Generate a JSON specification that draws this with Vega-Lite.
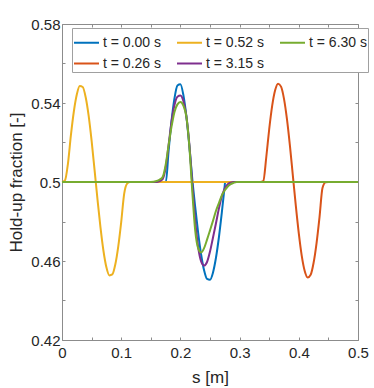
{
  "$schema": "https://vega.github.io/schema/vega-lite/v6.json",
  "width": 296,
  "height": 316,
  "autosize": {"type": "none"},
  "padding": {"left": 62, "top": 24, "right": 16, "bottom": 48},
  "background": "white",
  "config": {
    "font": "Liberation Sans",
    "view": {"stroke": "#8c8c8c", "strokeWidth": 1},
    "axis": {
      "grid": false,
      "domain": false,
      "tickColor": "#8c8c8c",
      "tickSize": -3,
      "labelFont": "Liberation Sans",
      "labelFontSize": 15,
      "labelColor": "#262626",
      "labelFlush": false,
      "labelOverlap": false,
      "titleFont": "Liberation Sans",
      "titleFontSize": 17,
      "titleColor": "#262626",
      "titleFontWeight": "normal"
    },
    "legend": {
      "orient": "none",
      "legendX": 10,
      "legendY": 4,
      "columns": 3,
      "symbolType": "stroke",
      "symbolSize": 625,
      "symbolStrokeWidth": 2,
      "labelFont": "Liberation Sans",
      "labelFontSize": 14,
      "labelColor": "#262626",
      "labelOffset": 3,
      "columnPadding": 12,
      "rowPadding": -4,
      "padding": 1,
      "strokeColor": "#a0a0a0",
      "fillColor": "white",
      "cornerRadius": 0
    }
  },
  "data": {
    "values": [
      {"t": "t = 0.00 s", "s": 0, "h": 0.5},
      {"t": "t = 0.00 s", "s": 0.17, "h": 0.5},
      {"t": "t = 0.00 s", "s": 0.1755, "h": 0.5},
      {"t": "t = 0.00 s", "s": 0.18, "h": 0.5155},
      {"t": "t = 0.00 s", "s": 0.185, "h": 0.5308},
      {"t": "t = 0.00 s", "s": 0.19, "h": 0.5424},
      {"t": "t = 0.00 s", "s": 0.195, "h": 0.5489},
      {"t": "t = 0.00 s", "s": 0.2, "h": 0.5495},
      {"t": "t = 0.00 s", "s": 0.205, "h": 0.5441},
      {"t": "t = 0.00 s", "s": 0.21, "h": 0.5335},
      {"t": "t = 0.00 s", "s": 0.215, "h": 0.5187},
      {"t": "t = 0.00 s", "s": 0.22, "h": 0.5017},
      {"t": "t = 0.00 s", "s": 0.225, "h": 0.4874},
      {"t": "t = 0.00 s", "s": 0.23, "h": 0.4743},
      {"t": "t = 0.00 s", "s": 0.235, "h": 0.4633},
      {"t": "t = 0.00 s", "s": 0.24, "h": 0.4553},
      {"t": "t = 0.00 s", "s": 0.245, "h": 0.4509},
      {"t": "t = 0.00 s", "s": 0.25, "h": 0.4505},
      {"t": "t = 0.00 s", "s": 0.255, "h": 0.4541},
      {"t": "t = 0.00 s", "s": 0.26, "h": 0.4615},
      {"t": "t = 0.00 s", "s": 0.265, "h": 0.4719},
      {"t": "t = 0.00 s", "s": 0.27, "h": 0.4846},
      {"t": "t = 0.00 s", "s": 0.275, "h": 0.4986},
      {"t": "t = 0.00 s", "s": 0.2755, "h": 0.5},
      {"t": "t = 0.00 s", "s": 0.5, "h": 0.5},

      {"t": "t = 0.26 s", "s": 0, "h": 0.5},
      {"t": "t = 0.26 s", "s": 0.335, "h": 0.5},
      {"t": "t = 0.26 s", "s": 0.34, "h": 0.5005},
      {"t": "t = 0.26 s", "s": 0.345, "h": 0.5124},
      {"t": "t = 0.26 s", "s": 0.35, "h": 0.5267},
      {"t": "t = 0.26 s", "s": 0.355, "h": 0.5385},
      {"t": "t = 0.26 s", "s": 0.36, "h": 0.5464},
      {"t": "t = 0.26 s", "s": 0.365, "h": 0.5498},
      {"t": "t = 0.26 s", "s": 0.37, "h": 0.5483},
      {"t": "t = 0.26 s", "s": 0.375, "h": 0.5421},
      {"t": "t = 0.26 s", "s": 0.38, "h": 0.5318},
      {"t": "t = 0.26 s", "s": 0.385, "h": 0.5184},
      {"t": "t = 0.26 s", "s": 0.39, "h": 0.5031},
      {"t": "t = 0.26 s", "s": 0.395, "h": 0.4879},
      {"t": "t = 0.26 s", "s": 0.4, "h": 0.474},
      {"t": "t = 0.26 s", "s": 0.405, "h": 0.4626},
      {"t": "t = 0.26 s", "s": 0.41, "h": 0.4549},
      {"t": "t = 0.26 s", "s": 0.415, "h": 0.4516},
      {"t": "t = 0.26 s", "s": 0.42, "h": 0.453},
      {"t": "t = 0.26 s", "s": 0.425, "h": 0.4591},
      {"t": "t = 0.26 s", "s": 0.43, "h": 0.4691},
      {"t": "t = 0.26 s", "s": 0.435, "h": 0.4822},
      {"t": "t = 0.26 s", "s": 0.44, "h": 0.4969},
      {"t": "t = 0.26 s", "s": 0.445, "h": 0.4998},
      {"t": "t = 0.26 s", "s": 0.45, "h": 0.5},
      {"t": "t = 0.26 s", "s": 0.5, "h": 0.5},

      {"t": "t = 0.52 s", "s": 0, "h": 0.5},
      {"t": "t = 0.52 s", "s": 0.005, "h": 0.5008},
      {"t": "t = 0.52 s", "s": 0.01, "h": 0.5092},
      {"t": "t = 0.52 s", "s": 0.015, "h": 0.5236},
      {"t": "t = 0.52 s", "s": 0.02, "h": 0.5357},
      {"t": "t = 0.52 s", "s": 0.025, "h": 0.5443},
      {"t": "t = 0.52 s", "s": 0.03, "h": 0.5486},
      {"t": "t = 0.52 s", "s": 0.035, "h": 0.5481},
      {"t": "t = 0.52 s", "s": 0.04, "h": 0.5429},
      {"t": "t = 0.52 s", "s": 0.045, "h": 0.5336},
      {"t": "t = 0.52 s", "s": 0.05, "h": 0.5209},
      {"t": "t = 0.52 s", "s": 0.055, "h": 0.5061},
      {"t": "t = 0.52 s", "s": 0.06, "h": 0.4911},
      {"t": "t = 0.52 s", "s": 0.065, "h": 0.477},
      {"t": "t = 0.52 s", "s": 0.07, "h": 0.4652},
      {"t": "t = 0.52 s", "s": 0.075, "h": 0.4568},
      {"t": "t = 0.52 s", "s": 0.08, "h": 0.4527},
      {"t": "t = 0.52 s", "s": 0.085, "h": 0.4532},
      {"t": "t = 0.52 s", "s": 0.09, "h": 0.4582},
      {"t": "t = 0.52 s", "s": 0.095, "h": 0.4673},
      {"t": "t = 0.52 s", "s": 0.1, "h": 0.4797},
      {"t": "t = 0.52 s", "s": 0.105, "h": 0.494},
      {"t": "t = 0.52 s", "s": 0.11, "h": 0.4992},
      {"t": "t = 0.52 s", "s": 0.115, "h": 0.5},
      {"t": "t = 0.52 s", "s": 0.5, "h": 0.5},

      {"t": "t = 3.15 s", "s": 0, "h": 0.5},
      {"t": "t = 3.15 s", "s": 0.16, "h": 0.5},
      {"t": "t = 3.15 s", "s": 0.165, "h": 0.5005},
      {"t": "t = 3.15 s", "s": 0.17, "h": 0.5015},
      {"t": "t = 3.15 s", "s": 0.175, "h": 0.507},
      {"t": "t = 3.15 s", "s": 0.18, "h": 0.5185},
      {"t": "t = 3.15 s", "s": 0.185, "h": 0.5305},
      {"t": "t = 3.15 s", "s": 0.19, "h": 0.539},
      {"t": "t = 3.15 s", "s": 0.195, "h": 0.5432},
      {"t": "t = 3.15 s", "s": 0.2, "h": 0.5438},
      {"t": "t = 3.15 s", "s": 0.205, "h": 0.541},
      {"t": "t = 3.15 s", "s": 0.21, "h": 0.5335},
      {"t": "t = 3.15 s", "s": 0.215, "h": 0.5195},
      {"t": "t = 3.15 s", "s": 0.22, "h": 0.4995},
      {"t": "t = 3.15 s", "s": 0.225, "h": 0.4805},
      {"t": "t = 3.15 s", "s": 0.23, "h": 0.467},
      {"t": "t = 3.15 s", "s": 0.235, "h": 0.4598},
      {"t": "t = 3.15 s", "s": 0.24, "h": 0.4577},
      {"t": "t = 3.15 s", "s": 0.245, "h": 0.4595},
      {"t": "t = 3.15 s", "s": 0.25, "h": 0.4648},
      {"t": "t = 3.15 s", "s": 0.255, "h": 0.4718},
      {"t": "t = 3.15 s", "s": 0.26, "h": 0.479},
      {"t": "t = 3.15 s", "s": 0.265, "h": 0.4865},
      {"t": "t = 3.15 s", "s": 0.27, "h": 0.4928},
      {"t": "t = 3.15 s", "s": 0.275, "h": 0.4968},
      {"t": "t = 3.15 s", "s": 0.28, "h": 0.4989},
      {"t": "t = 3.15 s", "s": 0.285, "h": 0.4997},
      {"t": "t = 3.15 s", "s": 0.29, "h": 0.5},
      {"t": "t = 3.15 s", "s": 0.5, "h": 0.5},

      {"t": "t = 6.30 s", "s": 0, "h": 0.5},
      {"t": "t = 6.30 s", "s": 0.15, "h": 0.5},
      {"t": "t = 6.30 s", "s": 0.16, "h": 0.5005},
      {"t": "t = 6.30 s", "s": 0.165, "h": 0.5012},
      {"t": "t = 6.30 s", "s": 0.17, "h": 0.5025},
      {"t": "t = 6.30 s", "s": 0.175, "h": 0.5085},
      {"t": "t = 6.30 s", "s": 0.18, "h": 0.5185},
      {"t": "t = 6.30 s", "s": 0.185, "h": 0.528},
      {"t": "t = 6.30 s", "s": 0.19, "h": 0.5355},
      {"t": "t = 6.30 s", "s": 0.195, "h": 0.5393},
      {"t": "t = 6.30 s", "s": 0.2, "h": 0.5405},
      {"t": "t = 6.30 s", "s": 0.205, "h": 0.5387},
      {"t": "t = 6.30 s", "s": 0.21, "h": 0.5332},
      {"t": "t = 6.30 s", "s": 0.215, "h": 0.5185},
      {"t": "t = 6.30 s", "s": 0.22, "h": 0.4955},
      {"t": "t = 6.30 s", "s": 0.225, "h": 0.4755},
      {"t": "t = 6.30 s", "s": 0.23, "h": 0.4665},
      {"t": "t = 6.30 s", "s": 0.235, "h": 0.4643},
      {"t": "t = 6.30 s", "s": 0.24, "h": 0.4665},
      {"t": "t = 6.30 s", "s": 0.245, "h": 0.4708},
      {"t": "t = 6.30 s", "s": 0.25, "h": 0.4755},
      {"t": "t = 6.30 s", "s": 0.255, "h": 0.4803},
      {"t": "t = 6.30 s", "s": 0.26, "h": 0.4853},
      {"t": "t = 6.30 s", "s": 0.265, "h": 0.4893},
      {"t": "t = 6.30 s", "s": 0.27, "h": 0.4932},
      {"t": "t = 6.30 s", "s": 0.275, "h": 0.4958},
      {"t": "t = 6.30 s", "s": 0.28, "h": 0.4977},
      {"t": "t = 6.30 s", "s": 0.285, "h": 0.4989},
      {"t": "t = 6.30 s", "s": 0.29, "h": 0.4996},
      {"t": "t = 6.30 s", "s": 0.295, "h": 0.5},
      {"t": "t = 6.30 s", "s": 0.5, "h": 0.5}
    ]
  },
  "layer": [
    {
      "mark": {"type": "line", "strokeWidth": 2, "interpolate": "monotone"},
      "encoding": {
        "x": {
          "field": "s",
          "type": "quantitative",
          "scale": {"domain": [0, 0.5], "nice": false},
          "axis": {
            "orient": "bottom",
            "title": "s [m]",
            "values": [0, 0.05, 0.1, 0.15, 0.2, 0.25, 0.3, 0.35, 0.4, 0.45, 0.5],
            "labelExpr": "round(datum.value*100) % 10 == 0 ? format(datum.value, '.1~f') : ''",
            "labelPadding": 8,
            "titlePadding": 9
          }
        },
        "y": {
          "field": "h",
          "type": "quantitative",
          "scale": {"domain": [0.42, 0.58], "nice": false, "zero": false},
          "axis": {
            "orient": "left",
            "title": "Hold-up fraction [-]",
            "values": [0.42, 0.44, 0.46, 0.48, 0.5, 0.52, 0.54, 0.56, 0.58],
            "labelExpr": "round(datum.value*100) % 4 == 2 ? format(datum.value, '.2~f') : ''",
            "labelPadding": 5,
            "titlePadding": 5
          }
        },
        "color": {
          "field": "t",
          "type": "nominal",
          "scale": {
            "domain": ["t = 0.00 s", "t = 0.26 s", "t = 0.52 s", "t = 3.15 s", "t = 6.30 s"],
            "range": ["#0072BD", "#D95319", "#EDB120", "#7E2F8E", "#77AC30"]
          },
          "legend": {"title": null}
        }
      }
    },
    {
      "mark": {"type": "point", "opacity": 0},
      "encoding": {
        "x": {
          "field": "s",
          "type": "quantitative",
          "axis": {
            "orient": "top",
            "title": null,
            "labels": false,
            "values": [0, 0.05, 0.1, 0.15, 0.2, 0.25, 0.3, 0.35, 0.4, 0.45, 0.5]
          }
        },
        "y": {
          "field": "h",
          "type": "quantitative",
          "axis": {
            "orient": "right",
            "title": null,
            "labels": false,
            "values": [0.42, 0.44, 0.46, 0.48, 0.5, 0.52, 0.54, 0.56, 0.58]
          }
        }
      }
    }
  ],
  "resolve": {"axis": {"x": "independent", "y": "independent"}}
}
